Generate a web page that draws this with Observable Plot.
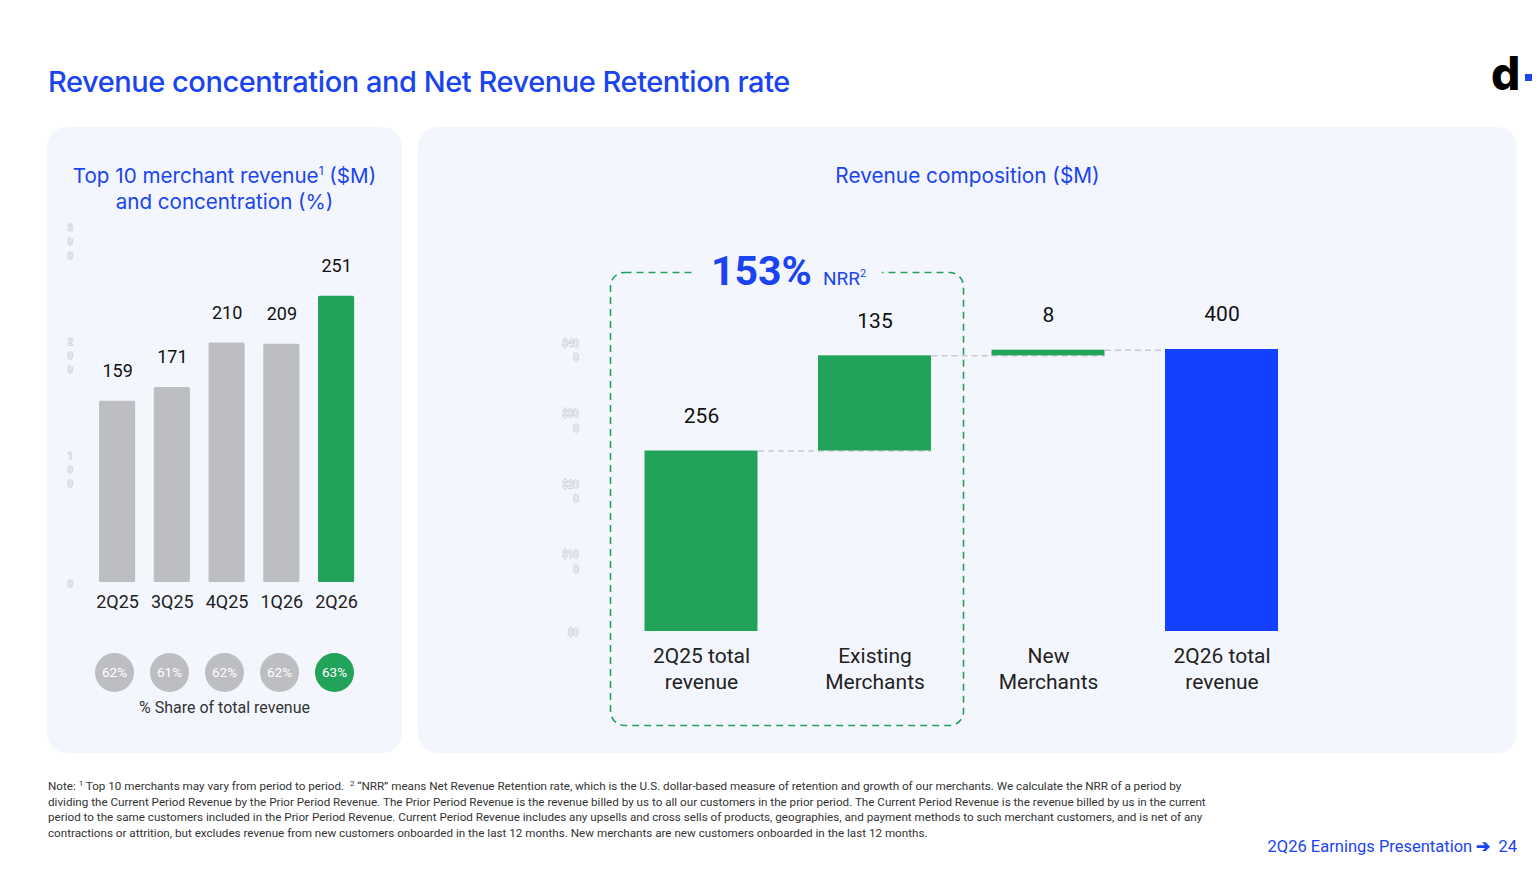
<!DOCTYPE html>
<html>
<head>
<meta charset="utf-8">
<script src="https://cdn.jsdelivr.net/npm/d3@7"></script>
<script src="https://cdn.jsdelivr.net/npm/@observablehq/plot@0.6"></script>
<style>
  html, body { margin: 0; padding: 0; background: #ffffff; }
  #page { position: relative; width: 1540px; height: 877px; overflow: hidden; background: #fff; font-family: Roboto, "Noto Sans", sans-serif; }
  .abs { position: absolute; }
  .title { left: 48px; top: 64px; font-family: Inter, sans-serif; font-weight: 500; font-size: 29px; color: #1a44f0; letter-spacing: -0.45px; white-space: nowrap; }
  .panel { background: #f4f6fd; border-radius: 20px; }
  .ptitle { font-family: Inter, sans-serif; font-weight: 400; color: #1a44f0; text-align: center; line-height: 26px; white-space: nowrap; }
  .ptitle sup { font-size: 12px; line-height: 0; vertical-align: 0; position: relative; top: -8px; }
  .note { left: 48px; top: 779px; font-size: 11.66px; line-height: 15.6px; color: #333; white-space: nowrap; }
  .note sup { font-size: 8px; line-height: 0; vertical-align: 0; position: relative; top: -4px; }
  .footer { right: 23px; top: 837px; font-size: 16.5px; color: #1a44f0; white-space: nowrap; }
  .share { left: 47px; width: 355px; top: 698px; text-align: center; font-size: 16px; color: #333; }
  .nrr { left: 695px; top: 247px; padding: 0 16px; background: #f4f6fd; color: #1a44f0; white-space: nowrap; }
  .nrr b { font-size: 41px; font-weight: 700; }
  .nrr span { font-size: 19px; margin-left: 11px; }
  .nrr sup { font-size: 11px; line-height: 0; vertical-align: 0; position: relative; top: -8px; }
</style>
</head>
<body>
<div id="page">
  <div class="abs title">Revenue concentration and Net Revenue Retention rate</div>
  <div class="abs" style="left:1491px; top:43px; font-family: Inter, sans-serif; font-weight:800; font-size:46px; color:#000; line-height:60px;">d</div>
  <div class="abs" style="left:1525px; top:74px; width:7px; height:7px; background:#1a44f0;"></div>

  <div class="abs panel" style="left:47px; top:127px; width:355px; height:626px;"></div>
  <div class="abs panel" style="left:418px; top:127px; width:1099px; height:626px;"></div>

  <div class="abs ptitle" style="left:47px; width:355px; top:163px; font-size:20.6px;">Top 10 merchant revenue<sup>1</sup> ($M)<br>and concentration (%)</div>
  <div class="abs ptitle" style="left:418px; width:1099px; top:163px; font-size:20.8px;">Revenue composition ($M)</div>

  <div id="left" class="abs" style="left:47px; top:210px;"></div>
  <div id="circles" class="abs" style="left:47px; top:647px;"></div>
  <div class="abs share">% Share of total revenue</div>

  <div id="right" class="abs" style="left:418px; top:300px;"></div>

  <svg class="abs" style="left:600px; top:262px;" width="380" height="475">
    <rect x="10.5" y="10.5" width="353" height="453" rx="14" ry="14" fill="none" stroke="#22a35a" stroke-width="1.6" stroke-dasharray="7,5"></rect>
  </svg>
  <div class="abs nrr"><b>153%</b><span>NRR<sup>2</sup></span></div>

  <div class="abs note">Note: <sup>1</sup> Top 10 merchants may vary from period to period.&nbsp; <sup>2</sup> “NRR” means Net Revenue Retention rate, which is the U.S. dollar-based measure of retention and growth of our merchants. We calculate the NRR of a period by<br>dividing the Current Period Revenue by the Prior Period Revenue. The Prior Period Revenue is the revenue billed by us to all our customers in the prior period. The Current Period Revenue is the revenue billed by us in the current<br>period to the same customers included in the Prior Period Revenue. Current Period Revenue includes any upsells and cross sells of products, geographies, and payment methods to such merchant customers, and is net of any<br>contractions or attrition, but excludes revenue from new customers onboarded in the last 12 months. New merchants are new customers onboarded in the last 12 months.</div>
  <div class="abs footer">2Q26 Earnings Presentation <b>&#x2794;</b>&nbsp; 24</div>
</div>

<script>
// ---------- Data ----------
const quarters = ["2Q25", "3Q25", "4Q25", "1Q26", "2Q26"];
const top10Revenue = [159, 171, 210, 209, 251];
const sharePct = [62, 61, 62, 62, 63];
const highlightQuarter = "2Q26";
const leftTicks = [0, 100, 200, 300];

const wfCategories = ["2Q25 total\nrevenue", "Existing\nMerchants", "New\nMerchants", "2Q26 total\nrevenue"];
const wfValues = [256, 135, 8, 400];
const wfKinds = ["total", "delta", "delta", "total"];
const wfColors = ["#22a35a", "#22a35a", "#22a35a", "#1440ff"];
const rightTicks = [0, 100, 200, 300, 400];

const GRAY = "#bdbec2", GREEN = "#22a35a";
const tickFill = "#f4f6fd", tickStroke = "#b9bac0";

// ---------- Left chart ----------
const leftData = quarters.map((q, i) => ({q, v: top10Revenue[i], s: sharePct[i], color: q === highlightQuarter ? GREEN : GRAY}));

const left = Plot.plot({
  width: 355, height: 410,
  marginTop: 30, marginBottom: 38, marginLeft: 42.7, marginRight: 38.55,
  style: {background: "transparent", fontFamily: "Roboto, sans-serif", overflow: "visible"},
  x: {domain: quarters, paddingInner: 0.34, paddingOuter: 0.17, round: false, axis: null},
  y: {domain: [0, 300], axis: null},
  color: {type: "identity"},
  marks: [
    Plot.text(leftTicks, {y: d => d, text: d => String(d).split("").join("\n"), frameAnchor: "left", dx: -20,
      textAnchor: "middle", lineAnchor: "middle", lineHeight: 1.5, fontSize: 9.5, fill: tickFill, stroke: tickStroke, strokeWidth: 0.9}),
    Plot.barY(leftData, {x: "q", y: "v", fill: "color", rx: 1.5}),
    Plot.text(leftData, {x: "q", y: "v", text: d => String(d.v), dy: -30, lineAnchor: "middle", fontSize: 18, fill: "#111"}),
    Plot.text(leftData, {x: "q", y: 0, text: "q", dy: 20, lineAnchor: "middle", fontSize: 18, fill: "#222"})
  ]
});
document.getElementById("left").appendChild(left);

const circles = Plot.plot({
  width: 355, height: 50,
  marginTop: 0, marginBottom: 0, marginLeft: 65.7, marginRight: 66.3,
  style: {background: "transparent", fontFamily: "Roboto, sans-serif", overflow: "visible"},
  x: {type: "point", domain: quarters, padding: 0, axis: null},
  color: {type: "identity"},
  marks: [
    Plot.dot(leftData, {x: "q", r: 19.5, fill: "color", stroke: null}),
    Plot.text(leftData, {x: "q", text: d => d.s + "%", fill: "#ffffff", fontSize: 13.5})
  ]
});
document.getElementById("circles").appendChild(circles);

// ---------- Right chart (waterfall) ----------
const hw = 0.3256;
let running = 0;
const wf = wfCategories.map((cat, i) => {
  let y1, y2;
  if (wfKinds[i] === "total") { y1 = 0; y2 = wfValues[i]; running = wfValues[i]; }
  else { y1 = running; y2 = running + wfValues[i]; running = y2; }
  return {i, cat, value: wfValues[i], y1, y2, kind: wfKinds[i], color: wfColors[i]};
});
const connectors = wf.slice(0, -1).map((d, k) => {
  const next = wf[k + 1];
  return {x1: d.i + hw, x2: next.kind === "delta" ? next.i + hw : next.i - hw, level: d.y2};
});
const fmtDollar = d => { const s = "$" + d; return s.length > 3 ? s.slice(0, 3) + "\n" + s.slice(3) : s; };

const right = Plot.plot({
  width: 1099, height: 401,
  marginTop: 49, marginBottom: 70, marginLeft: 196.25, marginRight: 208.75,
  style: {background: "transparent", fontFamily: "Roboto, sans-serif", overflow: "visible"},
  x: {domain: [-0.5, 3.5], axis: null},
  y: {domain: [0, 400], axis: null},
  color: {type: "identity"},
  marks: [
    Plot.text(rightTicks, {y: d => d, text: fmtDollar, frameAnchor: "left", dx: -36,
      textAnchor: "end", lineAnchor: "middle", lineHeight: 1.45, fontSize: 10, fill: tickFill, stroke: tickStroke, strokeWidth: 0.9}),
    Plot.link(connectors, {x1: "x1", x2: "x2", y1: "level", y2: "level", stroke: "#c9cace", strokeWidth: 1.5, strokeDasharray: "6,4"}),
    Plot.rect(wf, {x1: d => d.i - hw, x2: d => d.i + hw, y1: "y1", y2: "y2", fill: "color"}),
    Plot.text(wf, {x: "i", y: "y2", text: d => String(d.value), dy: -35, lineAnchor: "middle", fontSize: 21, fill: "#111"}),
    Plot.text(wf, {x: "i", y: 0, text: "cat", dy: 36, lineAnchor: "middle", lineHeight: 1.24, fontSize: 21, fill: "#222"})
  ]
});
document.getElementById("right").appendChild(right);
</script>
</body>
</html>
